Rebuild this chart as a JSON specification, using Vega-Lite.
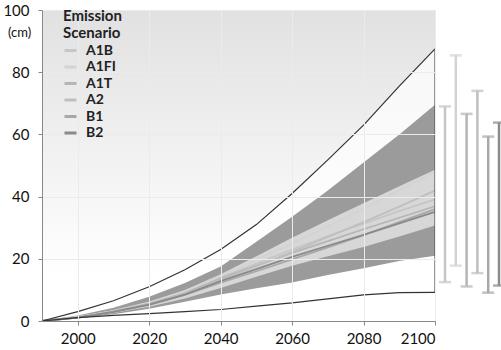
{
  "$schema": "https://vega.github.io/schema/vega-lite/v6.json",
  "padding": {"left": 2, "top": 3, "right": 0, "bottom": 0},
  "bounds": "flush",
  "spacing": 10,
  "background": "white",
  "config": {"view": {"stroke": null}, "font": "Lato"},
  "datasets": {
    "env": [
      {"year": 1990, "outerLo": 0, "outerHi": 0, "darkLo": 0, "darkHi": 0, "lightLo": 0, "lightHi": 0},
      {"year": 2000, "outerLo": 1.1, "outerHi": 3.0, "darkLo": 0.8, "darkHi": 1.8, "lightLo": 1.0, "lightHi": 1.4},
      {"year": 2010, "outerLo": 1.8, "outerHi": 6.5, "darkLo": 2.2, "darkHi": 4.3, "lightLo": 2.6, "lightHi": 3.5},
      {"year": 2020, "outerLo": 2.4, "outerHi": 11.0, "darkLo": 3.9, "darkHi": 7.8, "lightLo": 4.6, "lightHi": 6.3},
      {"year": 2030, "outerLo": 3.0, "outerHi": 16.5, "darkLo": 6.2, "darkHi": 12.2, "lightLo": 7.2, "lightHi": 10.0},
      {"year": 2040, "outerLo": 3.7, "outerHi": 23.0, "darkLo": 8.5, "darkHi": 17.5, "lightLo": 10.6, "lightHi": 15.0},
      {"year": 2050, "outerLo": 4.8, "outerHi": 31.0, "darkLo": 10.5, "darkHi": 25.5, "lightLo": 14.2, "lightHi": 20.8},
      {"year": 2060, "outerLo": 5.8, "outerHi": 41.0, "darkLo": 12.4, "darkHi": 33.5, "lightLo": 17.8, "lightHi": 26.8},
      {"year": 2070, "outerLo": 7.1, "outerHi": 51.8, "darkLo": 14.8, "darkHi": 42.0, "lightLo": 20.8, "lightHi": 32.4},
      {"year": 2080, "outerLo": 8.4, "outerHi": 63.0, "darkLo": 17.0, "darkHi": 51.0, "lightLo": 23.8, "lightHi": 37.9},
      {"year": 2090, "outerLo": 9.1, "outerHi": 75.5, "darkLo": 19.3, "darkHi": 60.0, "lightLo": 27.2, "lightHi": 43.3},
      {"year": 2100, "outerLo": 9.2, "outerHi": 87.5, "darkLo": 21.0, "darkHi": 69.5, "lightLo": 30.7, "lightHi": 48.6}
    ],
    "scen": [
      {"year": 1990, "A1B": 0, "A1FI": 0, "A1T": 0, "A2": 0, "B1": 0, "B2": 0},
      {"year": 2000, "A1B": 1.2, "A1FI": 1.3, "A1T": 1.2, "A2": 1.2, "B1": 1.1, "B2": 1.1},
      {"year": 2010, "A1B": 3.1, "A1FI": 3.2, "A1T": 3.1, "A2": 3.0, "B1": 2.9, "B2": 2.9},
      {"year": 2020, "A1B": 5.6, "A1FI": 5.7, "A1T": 5.6, "A2": 5.4, "B1": 5.2, "B2": 5.3},
      {"year": 2030, "A1B": 9.0, "A1FI": 9.3, "A1T": 9.0, "A2": 8.6, "B1": 8.4, "B2": 8.5},
      {"year": 2040, "A1B": 14.0, "A1FI": 14.6, "A1T": 13.6, "A2": 13.2, "B1": 12.3, "B2": 12.8},
      {"year": 2050, "A1B": 18.5, "A1FI": 19.6, "A1T": 17.8, "A2": 17.6, "B1": 16.0, "B2": 16.7},
      {"year": 2060, "A1B": 23.0, "A1FI": 24.9, "A1T": 21.9, "A2": 22.2, "B1": 19.8, "B2": 20.6},
      {"year": 2070, "A1B": 27.3, "A1FI": 30.4, "A1T": 25.7, "A2": 27.0, "B1": 23.7, "B2": 24.2},
      {"year": 2080, "A1B": 31.3, "A1FI": 36.1, "A1T": 29.5, "A2": 31.8, "B1": 27.6, "B2": 27.7},
      {"year": 2090, "A1B": 35.3, "A1FI": 42.0, "A1T": 33.2, "A2": 36.8, "B1": 31.8, "B2": 31.4},
      {"year": 2100, "A1B": 39.1, "A1FI": 48.0, "A1T": 36.9, "A2": 41.9, "B1": 36.0, "B2": 35.1}
    ],
    "bars": [
      {"scenario": "A1B", "lo": 12.5, "hi": 69.0},
      {"scenario": "A1FI", "lo": 17.8, "hi": 85.4},
      {"scenario": "A1T", "lo": 11.1, "hi": 66.6},
      {"scenario": "A2", "lo": 15.4, "hi": 74.0},
      {"scenario": "B1", "lo": 9.1, "hi": 59.3},
      {"scenario": "B2", "lo": 11.4, "hi": 63.8}
    ]
  },
  "hconcat": [
    {
      "width": 393,
      "height": 311,
      "view": {
        "stroke": null,
        "fill": {"gradient": "linear", "x1": 0, "y1": 0, "x2": 0, "y2": 1,
          "stops": [{"offset": 0, "color": "#e1e1e1"}, {"offset": 0.85, "color": "#ffffff"}, {"offset": 1, "color": "#ffffff"}]}
      },
      "encoding": {
        "x": {"type": "quantitative",
          "scale": {"domain": [1990, 2100], "nice": false, "zero": false},
          "axis": {"values": [2000, 2020, 2040, 2060, 2080, 2100], "format": "d", "title": null,
            "grid": true, "gridColor": "#ebebeb", "gridWidth": 1, "tickSize": 4, "tickColor": "#888888",
            "domainColor": "#888888", "labelFont": "Lato", "labelFontSize": 15, "labelColor": "#111111",
            "labelPadding": 6, "zindex": 1}}
      },
      "layer": [
        {
          "data": {"name": "env"},
          "mark": {"type": "area", "color": "#ffffff", "opacity": 0.7},
          "encoding": {
            "x": {"field": "year"},
            "y": {"field": "outerLo", "type": "quantitative",
              "scale": {"domain": [0, 100], "nice": false},
              "axis": {"values": [0, 20, 40, 60, 80, 100], "title": "(cm)", "titleAngle": 0, "titleX": -23, "titleY": 22,
                "titleAlign": "center", "titleBaseline": "middle", "titleFont": "Lato", "titleFontSize": 13,
                "titleFontWeight": "normal", "titleColor": "#111111",
                "grid": true, "gridColor": "#ebebeb", "gridWidth": 1, "tickSize": 4, "tickColor": "#888888",
                "domainColor": "#888888", "labelFont": "Lato", "labelFontSize": 15, "labelColor": "#111111",
                "labelPadding": 9, "zindex": 1}},
            "y2": {"field": "outerHi"}
          }
        },
        {
          "data": {"name": "env"},
          "mark": {"type": "area", "color": "#9b9b9b"},
          "encoding": {"x": {"field": "year"}, "y": {"field": "darkLo", "type": "quantitative"}, "y2": {"field": "darkHi"}}
        },
        {
          "data": {"name": "env"},
          "mark": {"type": "area", "color": "#d7d7d7"},
          "encoding": {"x": {"field": "year"}, "y": {"field": "lightLo", "type": "quantitative"}, "y2": {"field": "lightHi"}}
        },
        {
          "data": {"name": "scen"},
          "transform": [{"fold": ["A1B", "A1FI", "A1T", "A2", "B1", "B2"], "as": ["scenario", "rise"]}],
          "mark": {"type": "line", "strokeWidth": 1.8},
          "encoding": {
            "x": {"field": "year"},
            "y": {"field": "rise", "type": "quantitative"},
            "color": {"field": "scenario", "type": "nominal",
              "scale": {"domain": ["A1B", "A1FI", "A1T", "A2", "B1", "B2"],
                "range": ["#c6c6c6", "#d3d3d3", "#b5b5b5", "#bfbfbf", "#a8a8a8", "#8a8a8a"]},
              "legend": {"orient": "none", "legendX": 21, "legendY": -1,
                "title": ["Emission", "Scenario"], "titleFont": "Lato", "titleFontSize": 15, "titleFontWeight": "bold",
                "titleLineHeight": 17, "titleColor": "#222222", "titlePadding": 2,
                "labelFont": "Lato", "labelFontSize": 14, "labelFontWeight": "bold", "labelColor": "#222222",
                "symbolType": "stroke", "symbolStrokeWidth": 3, "symbolSize": 144, "rowPadding": 1.5, "labelOffset": 8}}
          }
        },
        {
          "data": {"name": "env"},
          "transform": [{"fold": ["outerLo", "outerHi"], "as": ["edge", "v"]}],
          "mark": {"type": "line", "color": "#333333", "strokeWidth": 1.2},
          "encoding": {"x": {"field": "year"}, "y": {"field": "v", "type": "quantitative"}, "detail": {"field": "edge"}}
        },
        {
          "data": {"name": "env"},
          "transform": [{"filter": "datum.year == 2100"}],
          "mark": {"type": "rule", "color": "#555555", "strokeWidth": 1.2},
          "encoding": {"x": {"field": "year"}, "y": {"field": "outerLo", "type": "quantitative"}, "y2": {"field": "outerHi"}}
        }
      ]
    },
    {
      "width": 54,
      "height": 311,
      "data": {"name": "bars"},
      "view": {"stroke": null, "fill": null},
      "encoding": {
        "x": {"field": "scenario", "type": "nominal",
          "scale": {"type": "point", "padding": 0, "domain": ["A1B", "A1FI", "A1T", "A2", "B1", "B2"]}, "axis": null},
        "color": {"field": "scenario", "type": "nominal",
          "scale": {"domain": ["A1B", "A1FI", "A1T", "A2", "B1", "B2"],
            "range": ["#c6c6c6", "#d3d3d3", "#b5b5b5", "#bfbfbf", "#a8a8a8", "#8a8a8a"]},
          "legend": null}
      },
      "layer": [
        {"mark": {"type": "rule", "strokeWidth": 2.5},
          "encoding": {"y": {"field": "lo", "type": "quantitative", "scale": {"domain": [0, 100], "nice": false}, "axis": null}, "y2": {"field": "hi"}}},
        {"mark": {"type": "tick", "orient": "horizontal", "size": 12, "thickness": 2.5},
          "encoding": {"y": {"field": "lo", "type": "quantitative"}}},
        {"mark": {"type": "tick", "orient": "horizontal", "size": 12, "thickness": 2.5},
          "encoding": {"y": {"field": "hi", "type": "quantitative"}}}
      ]
    }
  ]
}
